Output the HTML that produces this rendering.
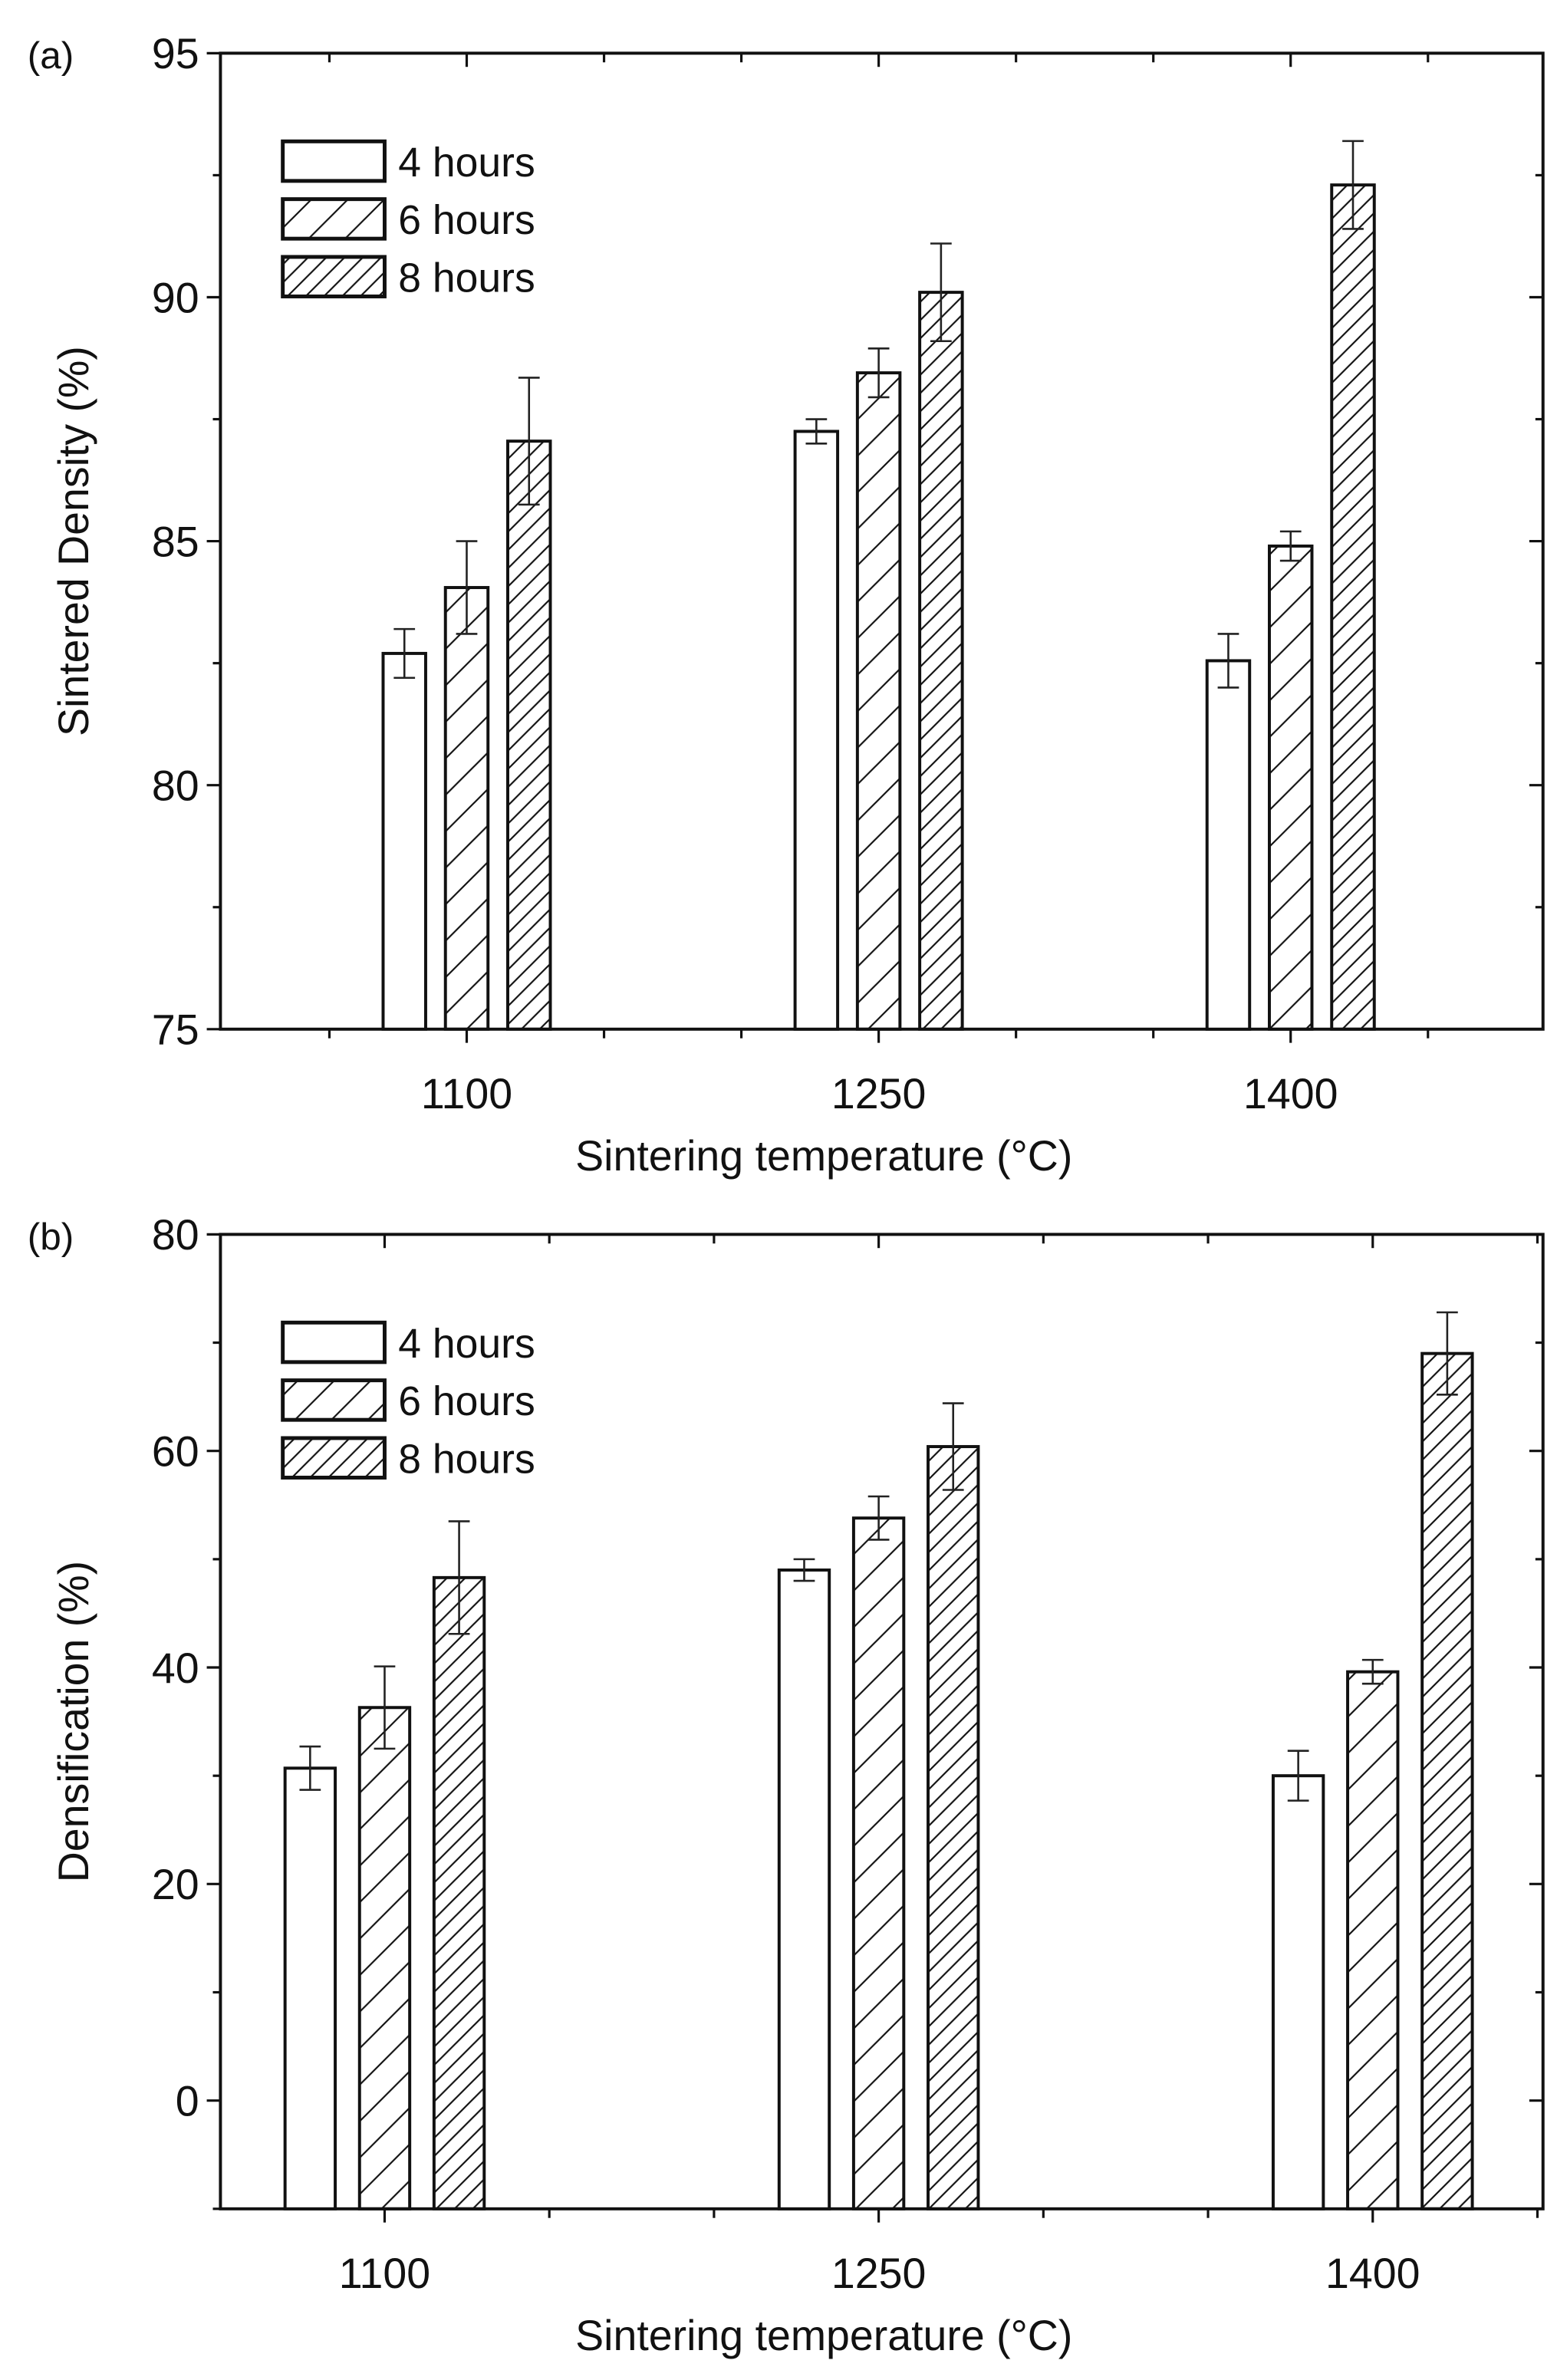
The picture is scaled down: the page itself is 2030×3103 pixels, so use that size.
<!DOCTYPE html>
<html><head><meta charset="utf-8"><style>
html,body{margin:0;padding:0;background:#fff;}
svg{display:block;}
text{font-family:"Liberation Sans",Arial,sans-serif;fill:#111;}
</style></head><body>
<svg id="fig" width="2030" height="3103" viewBox="0 0 1024.2 1565.6" xmlns="http://www.w3.org/2000/svg">
<defs>
<pattern id="h6" patternUnits="userSpaceOnUse" width="24" height="24"><path d="M-2,26 L26,-2 M-2,2 L2,-2 M22,26 L26,22" stroke="#111" stroke-width="1.1"/></pattern>
<pattern id="h8" patternUnits="userSpaceOnUse" width="12" height="12"><path d="M-2,14 L14,-2 M-2,2 L2,-2 M10,14 L14,10" stroke="#111" stroke-width="1.1"/></pattern>
</defs>
</svg>
<script>
const categories = ["1100","1250","1400"];
const seriesNames = ["4 hours","6 hours","8 hours"];
const densityValues = [[82.7,87.25,82.55],[84.05,88.45,84.9],[87.05,90.1,92.3]];
const densityErrors = [[0.5,0.25,0.55],[0.95,0.5,0.3],[1.3,1.0,0.9]];
const densityTicks = [75,80,85,90,95];
const densifValues = [[30.7,49.0,30.0],[36.3,53.8,39.6],[48.3,60.4,69.0]];
const densifErrors = [[2.0,1.0,2.3],[3.8,2.0,1.1],[5.2,4.0,3.8]];
const densifTicks = [0,20,40,60,80];

const NS="http://www.w3.org/2000/svg";
const svg=document.getElementById('fig');
function mk(tag,attrs,parent){const e=document.createElementNS(NS,tag);for(const k in attrs)e.setAttribute(k,attrs[k]);(parent||svg).appendChild(e);return e;}
const fills=["#fff","url(#h6)","url(#h8)"];

function panel(cfg){
  const g=mk('g',{});
  
  
  const L=145,R=1015,T=cfg.top,B=cfg.bottom;
  const y=v=>B-(v-cfg.ymin)/(cfg.ymax-cfg.ymin)*(B-T);
  const x=i=>cfg.cx0+i*cfg.cstep;
  const fr=mk('rect',{x:L,y:T,width:R-L,height:B-T,fill:'none',stroke:'#111','stroke-width':2},g);
  
  
  for(let v=cfg.ymin;v<=cfg.ymax+1e-9;v+=cfg.minor){
    const yy=y(v);const major=cfg.ticks.some(t=>Math.abs(t-v)<1e-6);
    const len=major?9:5;
    mk('line',{x1:L,x2:L-len,y1:yy,y2:yy,stroke:'#111','stroke-width':1.6},g);
    mk('line',{x1:R,x2:R-len,y1:yy,y2:yy,stroke:'#111','stroke-width':1.6},g);
  }
  cfg.ticks.forEach(t=>{
    const tl=mk('text',{x:L-14,y:y(t)+10,'text-anchor':'end','font-size':28},g);
    tl.textContent=t;
    
    
  });
  for(let k=-2;k<=8;k++){
    const xx=x(0)+k*cfg.cstep/3;
    if(xx<L+2||xx>R-2)continue;
    const len=(k%3===0)?9:6;
    mk('line',{x1:xx,x2:xx,y1:B,y2:B+len,stroke:'#111','stroke-width':1.6},g);
    mk('line',{x1:xx,x2:xx,y1:T,y2:T+len,stroke:'#111','stroke-width':1.6},g);
  }
  categories.forEach((c,i)=>{
    const tl=mk('text',{x:x(i),y:B+52,'text-anchor':'middle','font-size':28},g);
    tl.textContent=c;
    
    
  });
  const bw=cfg.bw,gap=cfg.gap;
  cfg.values.forEach((ser,s)=>{
    ser.forEach((v,i)=>{
      const cx=x(i)+(s-1)*gap;
      const r=mk('rect',{x:cx-bw/2,y:y(v),width:bw,height:B-y(v),fill:fills[s],stroke:'#111','stroke-width':2},g);
      
      
      const e=cfg.errors[s][i];
      const eg=mk('path',{d:`M${cx},${y(v+e)}V${y(v-e)}M${cx-7},${y(v+e)}H${cx+7}M${cx-7},${y(v-e)}H${cx+7}`,stroke:'#222','stroke-width':1.3,fill:'none'},g);
      
      
    });
  });
  seriesNames.forEach((n,s)=>{
    const ly=T+58+s*38;
    const b=mk('rect',{x:186,y:ly,width:67,height:26,fill:fills[s],stroke:'#111','stroke-width':2.5},g);
    
    
    const t=mk('text',{x:262,y:ly+23,'font-size':27},g);
    t.textContent=n;
    
    
  });
  const yt=mk('text',{transform:`translate(58,${(T+B)/2}) rotate(-90)`,'text-anchor':'middle','font-size':28},g);
  yt.textContent=cfg.ytitle;
  
  
  const xt=mk('text',{x:542,y:B+93,'text-anchor':'middle','font-size':28},g);
  xt.textContent='Sintering temperature (°C)';
  
  
  const pl=mk('text',{x:18,y:T+10,'font-size':25},g);
  pl.textContent=cfg.label;
  
  
}
panel({name:'panel-a-sintered-density',key:'a',top:35,bottom:677,ymin:75,ymax:95,minor:2.5,ticks:densityTicks,
  values:densityValues,errors:densityErrors,cx0:307,cstep:271,bw:28,gap:41,ytitle:'Sintered Density (%)',label:'(a)'});
panel({name:'panel-b-densification',key:'b',top:812,bottom:1453,ymin:-10,ymax:80,minor:10,ticks:densifTicks,
  values:densifValues,errors:densifErrors,cx0:253,cstep:325,bw:33,gap:49,ytitle:'Densification (%)',label:'(b)'});
</script>
</body></html>
